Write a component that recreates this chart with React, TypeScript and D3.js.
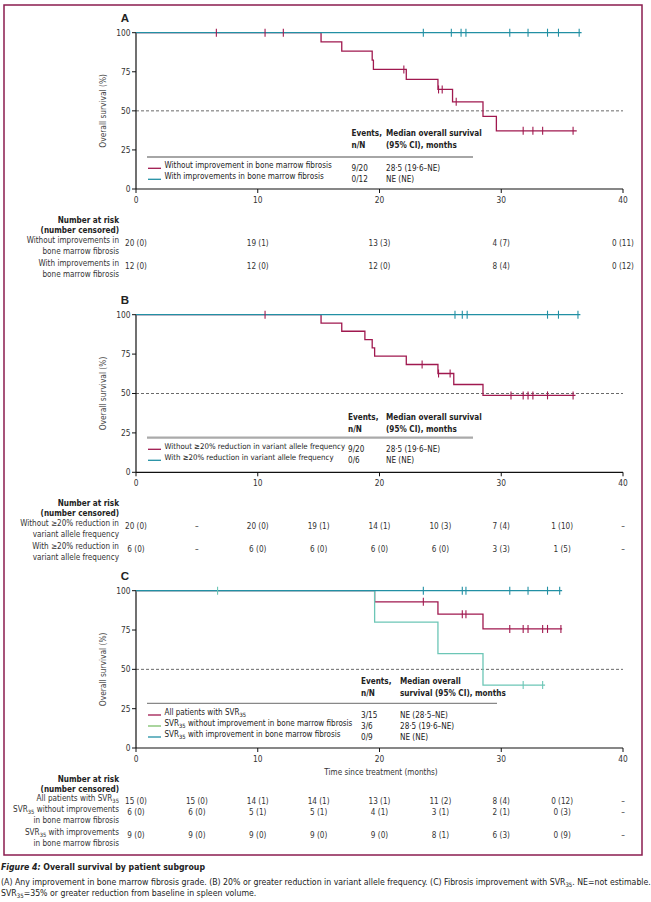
import React from "react";
import * as d3 from "d3";

const W = 651;
const H = 902;
const FONT = "'DejaVu Sans Condensed','Liberation Sans Narrow',sans-serif";
const RED = "#a0194f";
const TEAL = "#2290a4";
const GREEN = "#6cc6b6";
const FRAME = "#8b1d4f";
const TXT = "#333";
const FS = 8.1;

const xTicks = [0, 10, 20, 30, 40];
const yTicks = [0, 25, 50, 75, 100];

// ---------- Panel A ----------
const aRedTimes = [0, 15.2, 16.9, 19.4, 19.5, 22.2, 24.8, 26.0, 28.5, 29.6];
const aRedSurv = [100, 94.1, 88.2, 82.4, 76.5, 70.1, 63.7, 55.8, 46.5, 37.2];
const aRedEnd = 36.2;
const aRedCensor = [6.6, 10.6, 12.1, 22.0, 24.85, 25.15, 26.3, 31.8, 32.6, 33.4, 35.9];
const aTealTimes = [0];
const aTealSurv = [100];
const aTealEnd = 36.6;
const aTealCensor = [23.6, 25.9, 26.7, 27.1, 30.7, 32.2, 33.8, 34.7, 36.4];

const aLegendLabels = ["Without improvement in bone marrow fibrosis", "With improvements in bone marrow fibrosis"];
const aLegendEvents = ["9/20", "0/12"];
const aLegendMedian = ["28·5 (19·6–NE)", "NE (NE)"];

const aRiskTimes = [0, 10, 20, 30, 40];
const aRiskRow1 = ["20 (0)", "19 (1)", "13 (3)", "4 (7)", "0 (11)"];
const aRiskRow2 = ["12 (0)", "12 (0)", "12 (0)", "8 (4)", "0 (12)"];
const aRiskLabels = [["Without improvements in", "bone marrow fibrosis"], ["With improvements in", "bone marrow fibrosis"]];

// ---------- Panel B ----------
const bRedTimes = [0, 15.2, 16.9, 18.8, 19.4, 19.6, 22.2, 24.8, 26.1, 28.5];
const bRedSurv = [100, 94.7, 89.5, 84.2, 78.9, 73.7, 68.4, 62.7, 55.7, 48.8];
const bRedEnd = 36.1;
const bRedCensor = [10.6, 23.5, 24.85, 25.8, 30.8, 31.8, 32.2, 32.6, 33.8, 35.9];
const bTealTimes = [0];
const bTealSurv = [100];
const bTealEnd = 36.5;
const bTealCensor = [26.2, 26.8, 27.2, 33.8, 34.7, 36.3];

const bLegendLabels = ["Without ≥20% reduction in variant allele frequency", "With ≥20% reduction in variant allele frequency"];
const bLegendEvents = ["9/20", "0/6"];
const bLegendMedian = ["28·5 (19·6–NE)", "NE (NE)"];

const bRiskTimes = [0, 5, 10, 15, 20, 25, 30, 35, 40];
const bRiskRow1 = ["20 (0)", "–", "20 (0)", "19 (1)", "14 (1)", "10 (3)", "7 (4)", "1 (10)", "–"];
const bRiskRow2 = ["6 (0)", "–", "6 (0)", "6 (0)", "6 (0)", "6 (0)", "3 (3)", "1 (5)", "–"];
const bRiskLabels = [["Without ≥20% reduction in", "variant allele frequency"], ["With ≥20% reduction in", "variant allele frequency"]];

// ---------- Panel C ----------
const cRedTimes = [0, 19.6, 24.8, 28.5];
const cRedSurv = [100, 92.9, 85.1, 75.7];
const cRedEnd = 35.0;
const cRedCensor = [23.6, 26.8, 27.1, 30.7, 31.8, 32.2, 33.4, 33.8, 34.9];
const cGreenTimes = [0, 19.6, 24.8, 28.5];
const cGreenSurv = [100, 80, 60, 40];
const cGreenEnd = 33.6;
const cGreenCensor = [6.7, 31.8, 33.4];
const cTealTimes = [0];
const cTealSurv = [100];
const cTealEnd = 35.0;
const cTealCensor = [23.6, 26.8, 27.1, 30.7, 32.2, 33.8, 34.8];

const cLegendLabels = ["All patients with SVR|35|", "SVR|35| without improvement in bone marrow fibrosis", "SVR|35| with improvement in bone marrow fibrosis"];
const cLegendEvents = ["3/15", "3/6", "0/9"];
const cLegendMedian = ["NE (28·5–NE)", "28·5 (19·6–NE)", "NE (NE)"];

const cRiskTimes = [0, 5, 10, 15, 20, 25, 30, 35, 40];
const cRiskRow1 = ["15 (0)", "15 (0)", "14 (1)", "14 (1)", "13 (1)", "11 (2)", "8 (4)", "0 (12)", "–"];
const cRiskRow2 = ["6 (0)", "6 (0)", "5 (1)", "5 (1)", "4 (1)", "3 (1)", "2 (1)", "0 (3)", "–"];
const cRiskRow3 = ["9 (0)", "9 (0)", "9 (0)", "9 (0)", "9 (0)", "8 (1)", "6 (3)", "0 (9)", "–"];
const cRiskLabels = [["All patients with SVR|35|"], ["SVR|35| without improvements", "in bone marrow fibrosis"], ["SVR|35| with improvements", "in bone marrow fibrosis"]];

const x = d3.scaleLinear().domain([0, 40]).range([136, 623]);

// Renders text with |sub| markers as subscript
function Rich({ s, sub = 5.8 }: { s: string; sub?: number }) {
  const parts = s.split("|");
  return (
    <>
      {parts.map((p, i) =>
        i % 2 === 1 ? (
          <tspan key={i} fontSize={sub} dy={2}>{p}</tspan>
        ) : (
          <tspan key={i} dy={i > 0 ? -2 : 0}>{p}</tspan>
        )
      )}
    </>
  );
}

function survAt(times: number[], surv: number[], t: number) {
  let s = surv[0];
  for (let i = 0; i < times.length; i++) if (times[i] <= t) s = surv[i];
  return s;
}

type Series = { times: number[]; surv: number[]; end: number; censor: number[]; color: string };

function Curve({ s, y }: { s: Series; y: d3.ScaleLinear<number, number> }) {
  const pts: [number, number][] = s.times.map((t, i) => [t, s.surv[i]]);
  pts.push([s.end, s.surv[s.surv.length - 1]]);
  const line = d3.line<[number, number]>().x((d) => x(d[0])).y((d) => y(d[1])).curve(d3.curveStepAfter);
  return <path d={line(pts) || ""} fill="none" stroke={s.color} strokeWidth={1.3} />;
}

function Censors({ s, y }: { s: Series; y: d3.ScaleLinear<number, number> }) {
  return (
    <g>
      {s.censor.map((t, i) => {
        const cy = y(survAt(s.times, s.surv, t));
        return <line key={i} x1={x(t)} x2={x(t)} y1={cy - 4} y2={cy + 4} stroke={s.color} strokeWidth={1.1} />;
      })}
    </g>
  );
}

type PanelProps = {
  letter: string;
  y100: number;
  y0: number;
  series: Series[];
  censorOrder: Series[];
  legend: { labels: string[]; events: string[]; median: string[]; colors: string[] };
  legendHeader: [string, string, string, string];
  headerY: number;
  lineY: number;
  entryY: number;
  eventsX: number;
  medianX: number;
  lineEnd: number;
  lineWidth: number;
  lineColor: string;
  legendFs?: number;
};

function Panel(p: PanelProps) {
  const y = d3.scaleLinear().domain([0, 100]).range([p.y0, p.y100]);
  const lfs = p.legendFs ?? FS;
  return (
    <g>
      <text x={125} y={p.y100 - 14.5} dy="0.35em" textAnchor="middle" fontWeight="bold" fontSize={11.5} fill="#222" fontFamily="'Liberation Sans', Arial, sans-serif">{p.letter}</text>
      {/* dashed median line */}
      <line x1={x(0)} x2={x(40)} y1={y(50)} y2={y(50)} stroke="#444" strokeWidth={0.8} strokeDasharray="3,2" />
      {/* axes */}
      <line x1={x(0)} x2={x(0)} y1={p.y100} y2={p.y0} stroke="#111" strokeWidth={1.2} />
      <line x1={x(0)} x2={x(40)} y1={p.y0} y2={p.y0} stroke="#111" strokeWidth={1.2} />
      {yTicks.map((t) => (
        <g key={t}>
          <line x1={x(0) - 4} x2={x(0)} y1={y(t)} y2={y(t)} stroke="#111" strokeWidth={1} />
          <text x={x(0) - 5.5} y={y(t)} dy="0.35em" textAnchor="end" fontSize={8.3} fill={TXT}>{t}</text>
        </g>
      ))}
      {xTicks.map((t) => (
        <g key={t}>
          <line x1={x(t)} x2={x(t)} y1={p.y0} y2={p.y0 + 4} stroke="#111" strokeWidth={1} />
          <text x={x(t)} y={p.y0 + 11} dy="0.35em" textAnchor="middle" fontSize={8.3} fill={TXT}>{t}</text>
        </g>
      ))}
      <text transform={`translate(103,${(p.y0 + p.y100) / 2}) rotate(-90)`} dy="0.35em" textAnchor="middle" fontSize={8.3} fill="#444">Overall survival (%)</text>
      {/* curves */}
      {p.series.map((s, i) => <Curve key={i} s={s} y={y} />)}
      {p.censorOrder.map((s, i) => <Censors key={i} s={s} y={y} />)}
      {/* legend */}
      <g fontSize={FS} fill="#222">
        <text x={p.eventsX} y={p.headerY} dy="0.35em" fontWeight="bold">{p.legendHeader[0]}</text>
        <text x={p.eventsX} y={p.headerY + 12} dy="0.35em" fontWeight="bold">{p.legendHeader[1]}</text>
        <text x={p.medianX} y={p.headerY} dy="0.35em" fontWeight="bold">{p.legendHeader[2]}</text>
        <text x={p.medianX} y={p.headerY + 12} dy="0.35em" fontWeight="bold">{p.legendHeader[3]}</text>
        <line x1={147} x2={p.lineEnd} y1={p.lineY} y2={p.lineY} stroke={p.lineColor} strokeWidth={p.lineWidth} />
        {p.legend.labels.map((l, i) => {
          const yy = p.entryY + i * 11;
          return (
            <g key={i}>
              <line x1={148} x2={161} y1={yy} y2={yy} stroke={p.legend.colors[i]} strokeWidth={1.3} />
              <text x={164.5} y={yy} dy="0.35em" fontSize={lfs}><Rich s={l} /></text>
              <text x={p.eventsX} y={yy} dy="0.35em">{p.legend.events[i]}</text>
              <text x={p.medianX} y={yy} dy="0.35em">{p.legend.median[i]}</text>
            </g>
          );
        })}
      </g>
    </g>
  );
}

function RiskTable({ top, times, rows, labels, rowYs }: { top: number; times: number[]; rows: string[][]; labels: string[][]; rowYs: number[] }) {
  return (
    <g fontSize={FS} fill={TXT}>
      <text x={119} y={top} dy="0.35em" textAnchor="end" fontWeight="bold" fill="#222">Number at risk</text>
      <text x={119} y={top + 10} dy="0.35em" textAnchor="end" fontWeight="bold" fill="#222">(number censored)</text>
      {rows.map((r, i) => (
        <g key={i}>
          {labels[i].map((l, j) => (
            <text key={j} x={119} y={rowYs[i] + j * 11} dy="0.35em" textAnchor="end"><Rich s={l} /></text>
          ))}
          {r.map((v, j) => (
            <text key={j} x={x(times[j])} y={rowYs[i]} dy="0.35em" textAnchor="middle">{v}</text>
          ))}
        </g>
      ))}
    </g>
  );
}

export default function App() {
  const aSeries: Series[] = [
    { times: aRedTimes, surv: aRedSurv, end: aRedEnd, censor: aRedCensor, color: RED },
    { times: aTealTimes, surv: aTealSurv, end: aTealEnd, censor: aTealCensor, color: TEAL },
  ];
  const bSeries: Series[] = [
    { times: bRedTimes, surv: bRedSurv, end: bRedEnd, censor: bRedCensor, color: RED },
    { times: bTealTimes, surv: bTealSurv, end: bTealEnd, censor: bTealCensor, color: TEAL },
  ];
  const cRed: Series = { times: cRedTimes, surv: cRedSurv, end: cRedEnd, censor: cRedCensor, color: RED };
  const cGreen: Series = { times: cGreenTimes, surv: cGreenSurv, end: cGreenEnd, censor: cGreenCensor, color: GREEN };
  const cTeal: Series = { times: cTealTimes, surv: cTealSurv, end: cTealEnd, censor: cTealCensor, color: TEAL };

  return (
    <svg width={W} height={H} style={{ position: "absolute", left: 0, top: 0, background: "#fff" }} fontFamily={FONT}>
      <rect x={0} y={0} width={W} height={H} fill="#fff" />
      <rect x={4} y={5} width={638} height={850} fill="none" stroke={FRAME} strokeWidth={1.5} />

      <Panel letter="A" y100={32.7} y0={189} series={aSeries} censorOrder={aSeries}
        legend={{ labels: aLegendLabels, events: aLegendEvents, median: aLegendMedian, colors: [RED, TEAL] }}
        legendHeader={["Events,", "n/N", "Median overall survival", "(95% CI), months"]}
        headerY={133.5} lineY={157} entryY={168.3} eventsX={351.5} medianX={386} lineEnd={473} lineWidth={1.3} lineColor="#888" />
      <RiskTable top={220} times={aRiskTimes} rows={[aRiskRow1, aRiskRow2]} labels={aRiskLabels} rowYs={[242.7, 265.7]} />

      <Panel letter="B" y100={314.7} y0={472.3} series={bSeries} censorOrder={bSeries}
        legend={{ labels: bLegendLabels, events: bLegendEvents, median: bLegendMedian, colors: [RED, TEAL] }}
        legendHeader={["Events,", "n/N", "Median overall survival", "(95% CI), months"]}
        headerY={416.7} lineY={437.7} entryY={449.3} eventsX={348} medianX={386} lineEnd={473} lineWidth={2.2} lineColor="#aaa" legendFs={7.8} />
      <RiskTable top={503.3} times={bRiskTimes} rows={[bRiskRow1, bRiskRow2]} labels={bRiskLabels} rowYs={[526, 549]} />

      <Panel letter="C" y100={590.7} y0={748} series={[cRed, cGreen, cTeal]} censorOrder={[cRed, cTeal, cGreen]}
        legend={{ labels: cLegendLabels, events: cLegendEvents, median: cLegendMedian, colors: [RED, "#7cbf6a", TEAL] }}
        legendHeader={["Events,", "n/N", "Median overall", "survival  (95% CI), months"]}
        headerY={681} lineY={703.3} entryY={715} eventsX={361} medianX={400} lineEnd={497} lineWidth={1.3} lineColor="#888" legendFs={8.0} />
      <text x={381} y={772} dy="0.35em" textAnchor="middle" fontSize={FS} fill={TXT}>Time since treatment (months)</text>
      <RiskTable top={779} times={cRiskTimes} rows={[cRiskRow1, cRiskRow2, cRiskRow3]} labels={cRiskLabels} rowYs={[801, 812, 835]} />

      {/* caption */}
      <g fontSize={8.7} fill="#222">
        <text x={1} y={866.7} dy="0.35em" fontWeight="bold"><tspan fontStyle="italic">Figure 4:</tspan> Overall survival by patient subgroup</text>
        <text x={1} y={881.7} dy="0.35em">(A) Any improvement in bone marrow fibrosis grade. (B) 20% or greater reduction in variant allele frequency. (C) Fibrosis improvement with SVR<tspan fontSize={6} dy={2}>35</tspan><tspan dy={-2}>. NE=not estimable.</tspan></text>
        <text x={1} y={893.3} dy="0.35em">SVR<tspan fontSize={6} dy={2}>35</tspan><tspan dy={-2}>=35% or greater reduction from baseline in spleen volume.</tspan></text>
      </g>
    </svg>
  );
}
